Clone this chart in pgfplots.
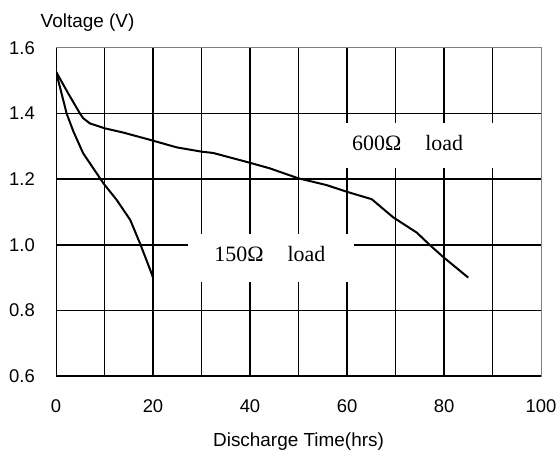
\documentclass[border=0pt]{standalone}
\usepackage{fontspec}
\setmainfont{Liberation Sans}
\newfontfamily\tnr{Liberation Serif}
\usepackage{pgfplots}
\pgfplotsset{compat=1.18}

\begin{document}
\begin{tikzpicture}
  \begin{axis}[
      name=ax,
      scale only axis,
      width=485bp,
      height=328bp,
      xmin=0, xmax=100,
      ymin=0.6, ymax=1.6,
      xtick={0,20,...,100},
      ytick={0.6,0.8,...,1.61},
      minor xtick={10,20,...,90},
      minor ytick={0.8,1.0,1.2,1.4},
      grid=minor,
      minor grid style={black, line width=1.7bp},
      tick style={draw=none},
      axis line style={gray, line width=1bp},
      /pgf/number format/assume math mode=true,
      /pgf/number format/fixed,
      /pgf/number format/precision=1,
      yticklabel style={/pgf/number format/fixed zerofill},
      tick label style={font=\fontsize{18.5}{20}\selectfont},
      xticklabel style={anchor=base, yshift=-36.7bp},
      yticklabel style={anchor=east, inner sep=0pt, xshift=-21bp},
      xlabel={Discharge Time(hrs)},
      ylabel={Voltage (V)},
      every axis x label/.style={at={(axis description cs:0.5,0)}, anchor=base,
        yshift=-70.7bp, font=\fontsize{19}{22}\selectfont},
      every axis y label/.style={at={(axis description cs:0.065,1)}, anchor=base,
        yshift=20.5bp, font=\fontsize{19}{22}\selectfont},
    ]
    % 600 ohm load
    \addplot[black, line width=2bp] coordinates {
      (0,1.528) (2.5,1.462) (4.95,1.40) (5.6,1.386) (7,1.37) (10.1,1.355)
      (13.9,1.342) (19.4,1.32) (24.9,1.297) (30,1.284) (32.4,1.28)
      (40,1.25) (44.1,1.233) (49.9,1.203) (55.8,1.182) (59.9,1.162)
      (65.1,1.139) (69.5,1.084) (74.4,1.037) (77.1,0.999) (79.9,0.962)
      (85,0.90)
    };
    % 150 ohm load
    \addplot[black, line width=2bp] coordinates {
      (0,1.528) (2.2,1.40) (3.6,1.345) (5.6,1.279) (7.7,1.233) (9.8,1.187)
      (12.5,1.137) (15.3,1.076) (17.3,1.005) (19.7,0.913) (20,0.90)
    };

    \fill[white] (axis cs:53,1.233) rectangle (axis cs:99.6,1.37);
    \fill[white] (axis cs:27.2,0.888) rectangle (axis cs:61.4,1.033);
    \node[anchor=base, font=\tnr\fontsize{22}{24}\selectfont]
      at (axis cs:72.5,1.289) {600Ω\hspace{24bp}load};
    \node[anchor=base, font=\tnr\fontsize{22}{24}\selectfont]
      at (axis cs:44.1,0.9506) {150Ω\hspace{24bp}load};

    \draw[black, line width=1.7bp] (rel axis cs:0,1) -- (rel axis cs:0,0) -- (rel axis cs:1,0);
  \end{axis}
  \pgfresetboundingbox
  \path ([shift={(-56bp,-75bp)}]ax.south west) rectangle ([shift={(17bp,48bp)}]ax.north east);
\end{tikzpicture}
\end{document}
